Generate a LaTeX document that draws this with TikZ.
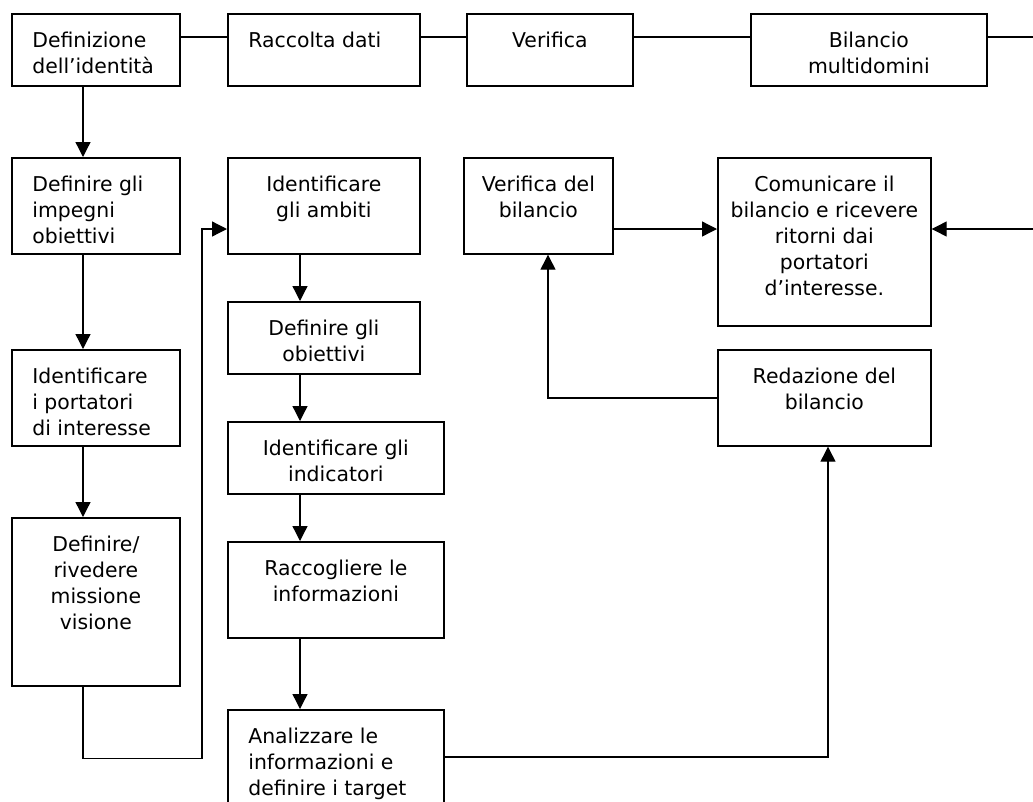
\documentclass[tikz,border=0pt]{standalone}
\usepackage{fontspec}
\setmainfont{DejaVu Sans}
\usetikzlibrary{arrows.meta,calc}

% A box with its text hanging from the top edge.
% #1 name, #2 left, #3 top, #4 width, #5 height, #6 alignment, #7 text
\newcommand{\flowbox}[7]{%
  \node[stepbox, minimum width=#4pt, minimum height=#5pt] (#1) at (#2,#3)
    {\parbox[t][#5pt][t]{#4pt}{#6\rule{0pt}{33.5pt}#7}};}
\newcommand{\padleft}{\raggedright\leftskip=20.5pt\relax}

\begin{document}
\begin{tikzpicture}[x=1pt, y=-1pt,
  stepbox/.style={draw, line width=1.7pt, inner sep=0pt, anchor=north west,
    font=\fontsize{20.4pt}{26pt}\selectfont},
  link/.style={line width=1.3pt},
  flow/.style={link, -{Triangle[length=15pt,width=15pt]}}]
\useasboundingbox (0,0) rectangle (1033,801);
\clip (0,0) rectangle (1033,801);

% top row
\flowbox{b1}{11}{13}{168}{72}{\padleft}{Definizione\\dell’identità}
\flowbox{b2}{227}{13}{192}{72}{\padleft}{Raccolta dati}
\flowbox{b3}{466}{13}{166}{72}{\centering}{Verifica}
\flowbox{b4}{750}{13}{236}{72}{\centering}{Bilancio\\multidomini}
\coordinate (e1) at (1033,37);

% left column
\flowbox{c1}{11}{157}{168}{96}{\padleft}{Definire gli\\impegni\\obiettivi}
\flowbox{c2}{11}{349}{168}{96}{\padleft}{Identificare\\i portatori\\di interesse}
\flowbox{c3}{11}{517}{168}{168}{\centering}{Definire/\\rivedere\\missione\\visione}

% middle column
\flowbox{m1}{227}{157}{192}{96}{\centering}{Identificare\\gli ambiti}
\flowbox{m2}{227}{301}{192}{72}{\centering}{Definire gli\\obiettivi}
\flowbox{m3}{227}{421}{216}{72}{\centering}{Identificare gli\\indicatori}
\flowbox{m4}{227}{541}{216}{96}{\centering}{Raccogliere le\\informazioni}
\flowbox{m5}{227}{709}{216}{124}{\padleft}{Analizzare le\\informazioni e\\definire i target}

% right part
\flowbox{r1}{463}{157}{149}{96}{\centering}{Verifica del\\bilancio}
\flowbox{r2}{717}{157}{213}{168}{\centering}{Comunicare il\\bilancio e ricevere\\ritorni dai\\portatori\\d’interesse.}
\flowbox{r3}{717}{349}{213}{96}{\centering}{Redazione del\\bilancio}
\coordinate (e2) at (1033,229);

% top row links
\draw[link] ($(b1.north east)+(0,24)$) -- ($(b2.north west)+(0,24)$);
\draw[link] ($(b2.north east)+(0,24)$) -- ($(b3.north west)+(0,24)$);
\draw[link] ($(b3.north east)+(0,24)$) -- ($(b4.north west)+(0,24)$);
\draw[link] ($(b4.north east)+(0,24)$) -- (e1);

% left column flow
\draw[flow] ($(b1.south west)+(72,0)$) -- ($(c1.north west)+(72,0)$);
\draw[flow] ($(c1.south west)+(72,0)$) -- ($(c2.north west)+(72,0)$);
\draw[flow] ($(c2.south west)+(72,0)$) -- ($(c3.north west)+(72,0)$);
\draw[flow] ($(c3.south west)+(72,0)$) |- ($(c3.south west)+(191,72)$)
  -- ($(c3.south west)+(191,0)$) |- ($(m1.north west)+(0,72)$);

% middle column flow
\draw[flow] ($(m1.south west)+(73,0)$) -- ($(m2.north west)+(73,0)$);
\draw[flow] ($(m2.south west)+(73,0)$) -- ($(m3.north west)+(73,0)$);
\draw[flow] ($(m3.south west)+(73,0)$) -- ($(m4.north west)+(73,0)$);
\draw[flow] ($(m4.south west)+(73,0)$) -- ($(m5.north west)+(73,0)$);
\draw[flow] ($(m5.north east)+(0,48)$) -| ($(r3.south west)+(111,0)$);

% right part flow
\draw[flow] ($(r1.north east)+(0,72)$) -- ($(r2.north west)+(0,72)$);
\draw[flow] (e2) -- ($(r2.north east)+(0,72)$);
\draw[flow] (r3.west) -| ($(r1.south west)+(85,0)$);
\end{tikzpicture}
\end{document}
